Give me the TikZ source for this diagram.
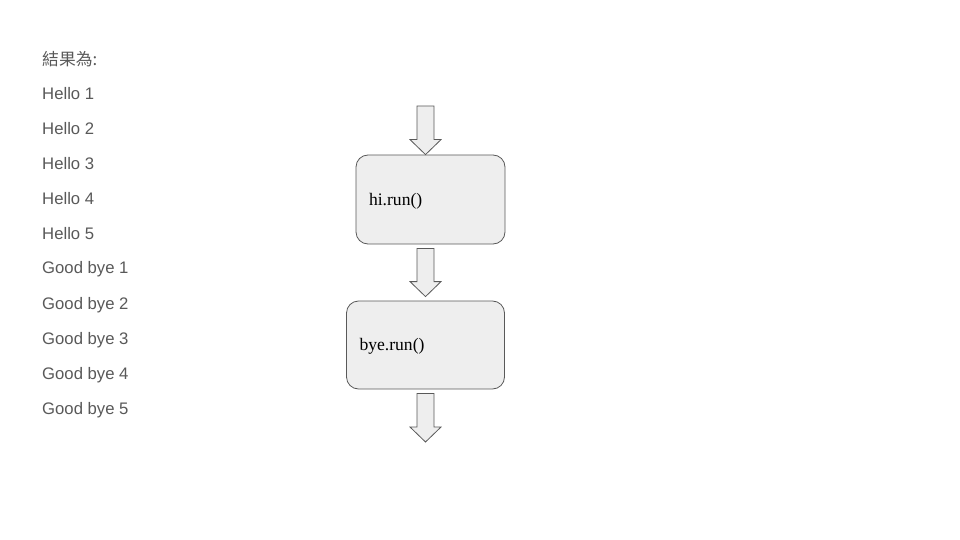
\documentclass[tikz,border=0pt]{standalone}
\usepackage{fontspec}
\setmainfont{Liberation Serif}
\newfontfamily\listfont{Liberation Sans}
\newfontfamily\cjkfont{Noto Sans CJK TC}
\usetikzlibrary{calc}
\definecolor{textgray}{HTML}{595959}
\definecolor{boxfill}{HTML}{EEEEEE}
\definecolor{boxline}{HTML}{595959}
\tikzset{
  listitem/.style={anchor=west, inner sep=0pt, text=textgray, font=\listfont\fontsize{16.7}{19}\selectfont},
  stepbox/.style={draw=boxline, fill=boxfill, rounded corners=12pt, line width=0.8pt,
    inner xsep=13pt, inner ysep=0pt, align=left, minimum height=89pt,
    text height=11pt, text depth=0pt,
    font=\fontsize{17.6}{20}\selectfont},
  blockarrow/.style={draw=boxline, fill=boxfill, line width=0.8pt, line join=miter},
}
% block arrow from point #1 (tail) down to point #2 (tip)
\newcommand\blockarrow[2]{%
  \draw[blockarrow] let \p1=#1, \p2=#2 in
    (\x1-8.5pt,\y1) -- (\x1+8.5pt,\y1) -- (\x1+8.5pt,\y2+15pt) -- (\x1+15.5pt,\y2+15pt)
    -- (\x1,\y2) -- (\x1-15.5pt,\y2+15pt) -- (\x1-8.5pt,\y2+15pt) -- cycle;}
\begin{document}
\begin{tikzpicture}[x=1pt,y=-1pt]
\useasboundingbox (0,0) rectangle (960,540);
% output listing
\node[listitem, font=\cjkfont\fontsize{16.8}{19}\selectfont] (title) at (42,59) {結果為:};
\node[listitem] (h1) at (42,94) {Hello 1};
\node[listitem] (h2) at (42,129) {Hello 2};
\node[listitem] (h3) at (42,164) {Hello 3};
\node[listitem] (h4) at (42,199) {Hello 4};
\node[listitem] (h5) at (42,234) {Hello 5};
\node[listitem] (g1) at (42,269.5) {Good bye 1};
\node[listitem] (g2) at (42,305) {Good bye 2};
\node[listitem] (g3) at (42,340) {Good bye 3};
\node[listitem] (g4) at (42,375) {Good bye 4};
\node[listitem] (g5) at (42,410) {Good bye 5};
% flow
\node[stepbox, text width=123pt] (hi) at (430.5,199.5) {hi.run()};
\node[stepbox, text width=132pt, minimum height=88pt] (bye) at (425.5,345) {bye.run()};
\coordinate (in) at (425.5,106);
\coordinate (out) at (425.5,442);
\blockarrow{(in)}{(hi.north -| in)}
\blockarrow{($(hi.south -| bye.north)+(0,4)$)}{($(bye.north)+(0,-4)$)}
\blockarrow{($(bye.south)+(0,4)$)}{(out)}
\end{tikzpicture}
\end{document}
